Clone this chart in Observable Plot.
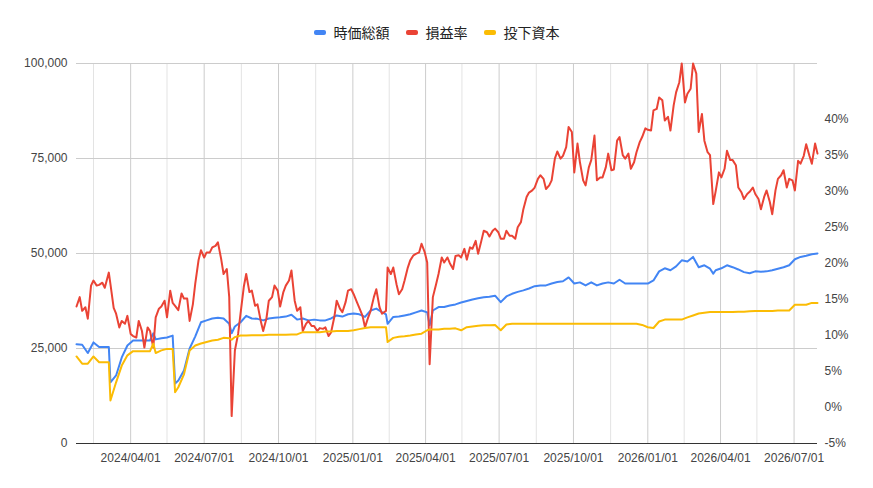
<!DOCTYPE html>
<html>
<head>
<meta charset="utf-8">
<script src="https://cdn.jsdelivr.net/npm/d3@7"></script>
<script src="https://cdn.jsdelivr.net/npm/@observablehq/plot@0.6"></script>
<style>
  html, body { margin: 0; padding: 0; background: #fff; }
  #wrap { position: relative; width: 873px; height: 488px; }
  #legend { position: absolute; top: 23px; left: 0; width: 873px; height: 18px; display: flex; justify-content: center; align-items: center;
    font-family: "Noto Sans CJK JP", "Noto Sans", sans-serif; font-size: 14px; color: #222; }
  .item { display: flex; align-items: center; margin: 0 8px; }
  .sw { width: 12px; height: 5px; border-radius: 2px; margin-right: 8px; }
  #chart { position: absolute; top: 0; left: 0; }
</style>
</head>
<body>
<div id="wrap">
  <div id="chart"></div>
  <div id="legend"></div>
</div>
<script>
// ---- data ----
const seriesNames = ["時価総額", "損益率", "投下資本"];
const seriesColors = ["#4285F4", "#EA4335", "#FBBC04"];

// dates for 時価総額 / 投下資本
const dates = [
  "2024-01-25","2024-02-01","2024-02-08","2024-02-15","2024-02-22","2024-02-29","2024-03-05","2024-03-07","2024-03-14","2024-03-21","2024-03-28",
  "2024-04-04","2024-04-11","2024-04-18","2024-04-25","2024-04-29","2024-05-02","2024-05-09","2024-05-16","2024-05-23","2024-05-26","2024-05-30",
  "2024-06-06","2024-06-13","2024-06-20","2024-06-27","2024-07-04","2024-07-11","2024-07-18","2024-07-25","2024-08-01","2024-08-04",
  "2024-08-08","2024-08-15","2024-08-22","2024-08-29","2024-09-05","2024-09-12","2024-09-19","2024-09-26","2024-10-03","2024-10-10",
  "2024-10-17","2024-10-24","2024-10-31","2024-11-07","2024-11-14","2024-11-21","2024-11-28","2024-12-05","2024-12-12","2024-12-19",
  "2024-12-26","2025-01-02","2025-01-09","2025-01-16","2025-01-23","2025-01-30","2025-02-06","2025-02-11","2025-02-13","2025-02-20","2025-02-27",
  "2025-03-06","2025-03-13","2025-03-20","2025-03-27","2025-04-03","2025-04-06","2025-04-10","2025-04-17","2025-04-24","2025-05-01",
  "2025-05-08","2025-05-15","2025-05-22","2025-05-29","2025-06-05","2025-06-12","2025-06-19","2025-06-26","2025-07-03","2025-07-10",
  "2025-07-17","2025-07-24","2025-07-31","2025-08-07","2025-08-14","2025-08-21","2025-08-28","2025-09-04","2025-09-11","2025-09-18",
  "2025-09-25","2025-10-02","2025-10-09","2025-10-16","2025-10-23","2025-10-30","2025-11-06","2025-11-13","2025-11-20","2025-11-27",
  "2025-12-04","2025-12-11","2025-12-18","2025-12-25","2026-01-01","2026-01-08","2026-01-15","2026-01-22","2026-01-29","2026-02-05",
  "2026-02-12","2026-02-19","2026-02-26","2026-03-05","2026-03-12","2026-03-19","2026-03-23","2026-03-26","2026-04-02","2026-04-09",
  "2026-04-16","2026-04-23","2026-04-30","2026-05-07","2026-05-14","2026-05-21","2026-05-28","2026-06-04","2026-06-11","2026-06-18",
  "2026-06-25","2026-07-02","2026-07-09","2026-07-16","2026-07-23","2026-07-30"
];

// 時価総額 (left axis)
const marketValue = [
  26100,26000,23800,26600,25400,25400,25400,16100,17900,22650,25800,
  27100,27100,27100,27100,29000,27400,27700,27900,28400,15800,16600,
  19200,25000,28200,31900,32400,32900,33100,32900,31500,29000,
  30800,31900,33600,32900,32800,32400,32900,33100,33200,33400,
  33900,32600,32900,32400,32600,32400,32400,32900,33700,33400,
  34000,34200,34000,33300,35000,35500,34600,34000,31500,33300,33400,
  33700,34000,34500,35000,34500,31100,35000,35900,35900,36300,
  36600,37100,37500,37900,38200,38500,38600,38900,37200,38700,
  39400,39900,40300,40800,41400,41600,41600,42100,42500,42700,
  43700,42100,42400,41600,42400,41600,42100,42400,42100,43100,
  42100,42100,42100,42100,42100,42900,45300,46100,45600,46600,
  48200,47900,49100,46400,46900,46000,44700,45600,46100,46900,
  46400,45800,45100,44800,45300,45200,45300,45600,46000,46400,
  46900,48500,49100,49400,49800,50000
];

// 投下資本 (left axis)
const investedCapital = [
  22900,21000,21000,22900,21400,21400,21400,11300,16100,20500,23200,
  24300,24300,24300,24300,26300,23800,24500,24900,24900,13500,14800,
  18200,24500,25800,26300,26700,27100,27300,27800,27700,27300,
  28000,28400,28400,28500,28500,28500,28600,28600,28600,28600,
  28700,28700,29300,29300,29300,29300,29500,29500,29600,29600,
  29600,29800,30100,30400,30600,30600,30600,30600,26700,27800,28100,
  28200,28400,28700,28900,29800,30000,30000,30000,30200,30200,
  30300,29800,30600,30800,31000,31100,31100,31200,29800,31300,
  31500,31500,31500,31500,31500,31500,31500,31500,31500,31500,
  31500,31500,31500,31500,31500,31500,31500,31500,31500,31500,
  31500,31500,31500,31200,30600,30400,32100,32600,32600,32600,
  32600,33200,33700,34200,34400,34600,34600,34600,34600,34600,
  34600,34700,34700,34800,34900,34900,34900,34900,35000,35000,
  35000,36500,36500,36500,37000,37000
];

// dates for 損益率
const rateDates = [
  "2024-01-25","2024-01-29","2024-02-01","2024-02-05","2024-02-08","2024-02-12","2024-02-15","2024-02-19","2024-02-22","2024-02-26",
  "2024-02-29","2024-03-05","2024-03-07","2024-03-11","2024-03-14","2024-03-18","2024-03-21","2024-03-25","2024-03-28","2024-04-01",
  "2024-04-04","2024-04-08","2024-04-11","2024-04-15","2024-04-18","2024-04-22","2024-04-25","2024-04-29","2024-05-02","2024-05-06",
  "2024-05-09","2024-05-13","2024-05-16","2024-05-20","2024-05-23","2024-05-26","2024-05-30","2024-06-03","2024-06-06","2024-06-10",
  "2024-06-13","2024-06-17","2024-06-20","2024-06-24","2024-06-27","2024-07-01","2024-07-04","2024-07-08","2024-07-11","2024-07-15",
  "2024-07-18","2024-07-22","2024-07-25","2024-07-29","2024-08-01","2024-08-04","2024-08-08","2024-08-12","2024-08-15","2024-08-19",
  "2024-08-22","2024-08-26","2024-08-29","2024-09-02","2024-09-05","2024-09-09","2024-09-12","2024-09-16","2024-09-19","2024-09-23",
  "2024-09-26","2024-09-30","2024-10-03","2024-10-07","2024-10-10","2024-10-14","2024-10-17","2024-10-21","2024-10-24","2024-10-28",
  "2024-10-31","2024-11-04","2024-11-07","2024-11-11","2024-11-14","2024-11-18","2024-11-21","2024-11-25","2024-11-28","2024-12-02",
  "2024-12-05","2024-12-09","2024-12-12","2024-12-16","2024-12-19","2024-12-23","2024-12-26","2024-12-30","2025-01-02","2025-01-06",
  "2025-01-09","2025-01-13","2025-01-16","2025-01-20","2025-01-23","2025-01-27","2025-01-30","2025-02-03","2025-02-06","2025-02-11",
  "2025-02-13","2025-02-17","2025-02-20","2025-02-24","2025-02-27","2025-03-03","2025-03-06","2025-03-10","2025-03-13","2025-03-17",
  "2025-03-20","2025-03-24","2025-03-27","2025-03-31","2025-04-03","2025-04-06","2025-04-10","2025-04-14","2025-04-17","2025-04-21",
  "2025-04-24","2025-04-28","2025-05-01","2025-05-05","2025-05-08","2025-05-12","2025-05-15","2025-05-19","2025-05-22","2025-05-26",
  "2025-05-29","2025-06-02","2025-06-05","2025-06-09","2025-06-12","2025-06-16","2025-06-19","2025-06-23","2025-06-26","2025-06-30",
  "2025-07-03","2025-07-07","2025-07-10","2025-07-14","2025-07-17","2025-07-21","2025-07-24","2025-07-28","2025-07-31","2025-08-04",
  "2025-08-07","2025-08-11","2025-08-14","2025-08-18","2025-08-21","2025-08-25","2025-08-28","2025-09-01","2025-09-04","2025-09-08",
  "2025-09-11","2025-09-15","2025-09-18","2025-09-22","2025-09-25","2025-09-29","2025-10-02","2025-10-06","2025-10-09","2025-10-13",
  "2025-10-16","2025-10-20","2025-10-23","2025-10-27","2025-10-30","2025-11-03","2025-11-06","2025-11-10","2025-11-13","2025-11-17",
  "2025-11-20","2025-11-24","2025-11-27","2025-12-01","2025-12-04","2025-12-08","2025-12-11","2025-12-15","2025-12-18","2025-12-22",
  "2025-12-25","2025-12-29","2026-01-01","2026-01-05","2026-01-08","2026-01-12","2026-01-15","2026-01-19","2026-01-22","2026-01-26",
  "2026-01-29","2026-02-02","2026-02-05","2026-02-09","2026-02-12","2026-02-16","2026-02-19","2026-02-23","2026-02-26","2026-03-02",
  "2026-03-05","2026-03-09","2026-03-12","2026-03-16","2026-03-19","2026-03-23","2026-03-26","2026-03-30","2026-04-02","2026-04-06",
  "2026-04-09","2026-04-13","2026-04-16","2026-04-20","2026-04-23","2026-04-27","2026-04-30","2026-05-04","2026-05-07","2026-05-11",
  "2026-05-14","2026-05-18","2026-05-21","2026-05-25","2026-05-28","2026-06-01","2026-06-04","2026-06-08","2026-06-11","2026-06-15",
  "2026-06-18","2026-06-22","2026-06-25","2026-06-29","2026-07-02","2026-07-06","2026-07-09","2026-07-13","2026-07-16","2026-07-20",
  "2026-07-23","2026-07-27","2026-07-30"
];

// 損益率 in % (right axis)
const profitRate = [
  14.0,15.3,13.4,13.9,12.3,16.9,17.6,16.9,17.0,17.3,
  16.6,18.7,17.1,13.8,13.0,11.1,12.0,11.6,12.7,10.2,
  9.9,9.7,12.0,10.6,8.3,11.1,10.6,8.3,12.5,13.7,
  14.0,14.8,12.5,16.2,14.5,14.1,13.5,15.8,15.1,15.1,
  12.0,14.3,17.2,20.4,21.8,20.8,21.5,21.5,22.2,22.4,
  22.9,20.6,18.5,19.2,15.3,-1.2,7.9,10.2,13.0,16.7,
  18.5,16.0,16.2,14.1,14.3,12.0,10.6,12.3,14.8,15.3,
  16.9,16.2,14.0,16.0,16.9,17.6,19.0,14.8,13.4,13.9,
  10.6,11.6,12.0,11.3,11.3,10.6,11.0,10.9,11.1,9.9,
  10.4,12.5,14.8,13.7,13.2,14.6,16.2,16.4,15.7,14.6,
  13.8,12.7,11.1,12.5,13.4,15.3,16.4,13.9,13.0,13.4,
  19.4,18.5,19.4,17.1,15.7,16.4,17.6,19.4,20.4,21.1,
  21.3,21.5,22.7,21.5,20.1,6.0,15.3,17.1,18.5,20.8,
  20.1,20.8,20.0,19.2,21.0,21.1,20.8,22.0,20.5,22.2,
  22.0,23.1,21.3,23.1,24.5,24.3,23.7,24.5,24.8,24.3,
  23.4,23.4,24.5,23.8,23.8,23.4,25.0,25.7,27.5,29.2,
  29.8,30.1,30.5,31.7,32.2,31.7,30.3,30.8,31.5,34.5,
  35.5,34.5,34.9,36.1,38.9,38.2,32.6,36.6,34.0,31.5,
  30.8,33.3,34.3,37.7,31.5,31.9,31.9,33.3,35.2,32.9,
  33.0,37.0,37.5,35.0,34.5,35.2,33.1,34.0,35.4,36.8,
  37.5,38.7,38.5,38.4,41.2,41.4,43.0,42.6,39.8,40.3,
  38.4,41.9,43.7,45.1,47.7,42.3,43.5,44.2,47.7,46.3,
  38.2,40.7,37.0,35.4,35.0,28.2,30.0,32.6,31.9,33.1,
  35.6,34.3,34.3,33.6,30.5,29.8,28.9,29.6,29.9,30.5,
  29.6,28.9,27.5,29.2,30.1,28.5,26.8,30.1,31.7,32.2,
  32.9,30.5,31.7,31.5,30.1,34.2,33.8,34.9,36.5,34.9,
  33.8,36.6,35.2
];

const leftTicks = [0, 25000, 50000, 75000, 100000];
const rightTicksPct = [-5, 0, 5, 10, 15, 20, 25, 30, 35, 40];
const rightDomainPct = [-5, 47.7];
const quarterTicks = ["2024-04-01","2024-07-01","2024-10-01","2025-01-01","2025-04-01","2025-07-01","2025-10-01","2026-01-01","2026-04-01","2026-07-01"];
const minorTicks = ["2024-02-15","2024-05-16","2024-08-16","2024-11-16","2025-02-15","2025-05-16","2025-08-16","2025-11-16","2026-02-15","2026-05-16"];
const xDomain = ["2024-01-25", "2026-07-30"];

// ---- build ----
const K = (leftTicks[leftTicks.length - 1] - leftTicks[0]) / (rightDomainPct[1] - rightDomainPct[0]);
const pctToLeft = p => (p - rightDomainPct[0]) * K;
const leftToPct = v => v / K + rightDomainPct[0];

const capRows = dates.map((d, i) => ({ date: new Date(d), mv: marketValue[i], ic: investedCapital[i] }));
const rateRows = rateDates.map((d, i) => ({ date: new Date(d), pr: pctToLeft(profitRate[i]) }));
const qDates = quarterTicks.map(d => new Date(d));
const mDates = minorTicks.map(d => new Date(d));

const chart = Plot.plot({
  width: 873,
  height: 488,
  marginLeft: 76,
  marginRight: 56,
  marginTop: 63,
  marginBottom: 45,
  style: { fontFamily: "'Liberation Sans', Arial, sans-serif", fontSize: "12px", color: "#444", background: "#fff" },
  x: { type: "utc", domain: xDomain.map(d => new Date(d)) },
  y: { domain: [leftTicks[0], leftTicks[leftTicks.length - 1]] },
  marks: [
    Plot.ruleX(mDates, { stroke: "#e3e3e3", strokeWidth: 1 }),
    Plot.ruleX(qDates, { stroke: "#cccccc", strokeWidth: 1 }),
    Plot.ruleY(leftTicks.slice(1), { stroke: "#cccccc", strokeWidth: 1 }),
    Plot.axisY({ ticks: leftTicks, tickFormat: d3.format(","), tickSize: 0, tickPadding: 9, label: null }),
    Plot.axisY({ anchor: "right", ticks: rightTicksPct.map(pctToLeft), tickFormat: v => Math.round(leftToPct(v)) + "%", tickSize: 0, tickPadding: 7, label: null }),
    Plot.axisX({ ticks: qDates, tickFormat: d3.utcFormat("%Y/%m/%d"), tickSize: 0, tickPadding: 10, label: null }),
    Plot.line(capRows, { x: "date", y: "mv", stroke: seriesColors[0], strokeWidth: 2, strokeLinejoin: "round" }),
    Plot.line(rateRows, { x: "date", y: "pr", stroke: seriesColors[1], strokeWidth: 2, strokeLinejoin: "round" }),
    Plot.line(capRows, { x: "date", y: "ic", stroke: seriesColors[2], strokeWidth: 2, strokeLinejoin: "round" }),
    Plot.ruleY([0], { stroke: "#333333", strokeWidth: 1 })
  ]
});
document.getElementById("chart").appendChild(chart);

const legend = document.getElementById("legend");
seriesNames.forEach((name, i) => {
  const it = document.createElement("div");
  it.className = "item";
  const sw = document.createElement("div");
  sw.className = "sw";
  sw.style.background = seriesColors[i];
  const tx = document.createElement("span");
  tx.textContent = name;
  it.appendChild(sw);
  it.appendChild(tx);
  legend.appendChild(it);
});
</script>
</body>
</html>
